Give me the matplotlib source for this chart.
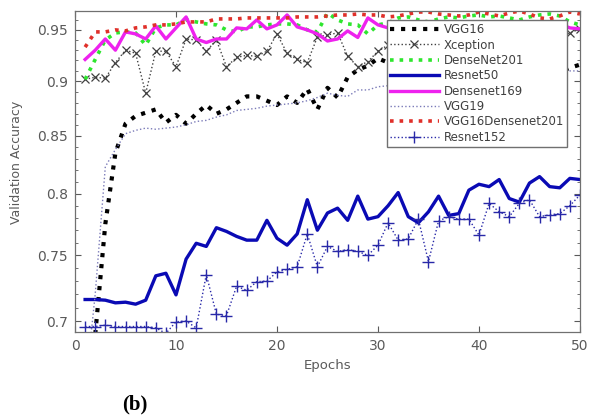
import matplotlib

matplotlib.use("Agg")
import matplotlib.pyplot as plt
import numpy as np
from matplotlib.ticker import NullFormatter

epochs = list(range(1, 51))

vgg16 = [0.660, 0.690, 0.775, 0.835, 0.861, 0.868, 0.871, 0.874, 0.862, 0.869,
         0.861, 0.870, 0.878, 0.870, 0.874, 0.880, 0.886, 0.886, 0.882, 0.878,
         0.886, 0.880, 0.893, 0.874, 0.894, 0.885, 0.904, 0.911, 0.915, 0.922,
         0.918, 0.910, 0.914, 0.920, 0.912, 0.908, 0.915, 0.918, 0.911, 0.909,
         0.916, 0.913, 0.908, 0.912, 0.917, 0.910, 0.914, 0.909, 0.913, 0.916]
xception = [0.902, 0.904, 0.903, 0.918, 0.930, 0.927, 0.889, 0.929, 0.929, 0.914,
            0.941, 0.940, 0.929, 0.940, 0.914, 0.923, 0.925, 0.924, 0.929, 0.946,
            0.927, 0.921, 0.918, 0.943, 0.945, 0.947, 0.924, 0.914, 0.919, 0.929,
            0.935, 0.941, 0.930, 0.938, 0.944, 0.933, 0.940, 0.946, 0.937, 0.942,
            0.948, 0.939, 0.944, 0.950, 0.941, 0.946, 0.949, 0.943, 0.947, 0.951]
densenet201 = [0.902, 0.921, 0.940, 0.947, 0.948, 0.947, 0.935, 0.952, 0.955, 0.955,
               0.960, 0.958, 0.956, 0.955, 0.950, 0.948, 0.953, 0.953, 0.955, 0.956,
               0.956, 0.955, 0.950, 0.948, 0.967, 0.960, 0.956, 0.955, 0.946, 0.955,
               0.957, 0.962, 0.963, 0.960, 0.958, 0.961, 0.963, 0.962, 0.964, 0.965,
               0.963, 0.964, 0.962, 0.960, 0.963, 0.965, 0.966, 0.964, 0.958, 0.955]
resnet50 = [0.716, 0.716, 0.7155, 0.7135, 0.714, 0.7125, 0.7155, 0.734, 0.736, 0.7195,
            0.747, 0.7595, 0.757, 0.772, 0.769, 0.765, 0.762, 0.762, 0.778, 0.7635,
            0.758, 0.767, 0.795, 0.770, 0.784, 0.788, 0.778, 0.798, 0.779, 0.781,
            0.790, 0.801, 0.781, 0.776, 0.785, 0.798, 0.782, 0.7835, 0.803, 0.808,
            0.806, 0.812, 0.796, 0.793, 0.809, 0.8145, 0.806, 0.805, 0.813, 0.812]
densenet169 = [0.921, 0.930, 0.941, 0.930, 0.948, 0.946, 0.941, 0.954, 0.941, 0.952,
               0.963, 0.941, 0.9375, 0.941, 0.941, 0.952, 0.951, 0.960, 0.951, 0.955,
               0.965, 0.953, 0.950, 0.946, 0.939, 0.941, 0.949, 0.9425, 0.962, 0.955,
               0.952, 0.948, 0.955, 0.950, 0.946, 0.953, 0.957, 0.951, 0.947, 0.954,
               0.958, 0.952, 0.949, 0.955, 0.951, 0.947, 0.953, 0.956, 0.952, 0.951]
vgg19 = [0.650, 0.720, 0.823, 0.838, 0.852, 0.855, 0.857, 0.856, 0.857, 0.858,
         0.860, 0.863, 0.864, 0.867, 0.869, 0.873, 0.874, 0.875, 0.877, 0.878,
         0.879, 0.880, 0.882, 0.885, 0.889, 0.887, 0.886, 0.892, 0.892, 0.895,
         0.896, 0.897, 0.898, 0.899, 0.900, 0.900, 0.901, 0.902, 0.903, 0.903,
         0.904, 0.905, 0.905, 0.906, 0.907, 0.907, 0.908, 0.909, 0.910, 0.910]
vgg16_densenet201 = [0.933, 0.948, 0.948, 0.950, 0.949, 0.952, 0.953, 0.955, 0.955, 0.956,
                     0.958, 0.958, 0.958, 0.961, 0.961, 0.961, 0.962, 0.962, 0.962, 0.962,
                     0.962, 0.963, 0.963, 0.963, 0.964, 0.965, 0.965, 0.966, 0.965, 0.965,
                     0.963, 0.964, 0.966, 0.968, 0.968, 0.966, 0.965, 0.964, 0.965, 0.968,
                     0.966, 0.964, 0.967, 0.969, 0.966, 0.962, 0.961, 0.964, 0.968, 0.966]
resnet152 = [0.696, 0.696, 0.697, 0.696, 0.696, 0.696, 0.696, 0.695, 0.691, 0.6995,
             0.700, 0.695, 0.735, 0.705, 0.704, 0.726, 0.723, 0.7295, 0.730, 0.737,
             0.739, 0.741, 0.767, 0.741, 0.757, 0.753, 0.7545, 0.753, 0.750, 0.758,
             0.776, 0.762, 0.763, 0.779, 0.745, 0.7775, 0.781, 0.779, 0.779, 0.766,
             0.792, 0.785, 0.781, 0.792, 0.795, 0.781, 0.7825, 0.7835, 0.790, 0.799]

xticks = [0, 10, 20, 30, 40, 50]
yticks = [0.7, 0.75, 0.8, 0.85, 0.9, 0.95]
ytick_labels = ["0.7", "0.75", "0.8", "0.85", "0.9", "0.95"]

GRAY = "#5a5a5a"


def plot_curves(ax):
    ax.plot(epochs, vgg16, ls=":", lw=3.0, color="black", label="VGG16")
    ax.plot(epochs, xception, ls=":", lw=1.0, color="#404040", marker="x",
            markersize=6, markeredgewidth=0.9, label="Xception")
    ax.plot(epochs, densenet201, ls=":", lw=2.6, color="#2ee62e", label="DenseNet201")
    ax.plot(epochs, resnet50, ls="-", lw=2.4, color="#0a0ab4", label="Resnet50")
    ax.plot(epochs, densenet169, ls="-", lw=2.4, color="#ee22ee", label="Densenet169")
    ax.plot(epochs, vgg19, ls=":", lw=1.0, color="#7a7ab8", label="VGG19")
    ax.plot(epochs, vgg16_densenet201, ls=":", lw=2.6, color="#e0302a",
            label="VGG16Densenet201")
    ax.plot(epochs, resnet152, ls=":", lw=1.0, color="#2828a8", marker="+",
            markersize=8, markeredgewidth=1.0, label="Resnet152")


def style_axes(ax):
    ax.set_xlim(0, 50)
    ax.set_yscale("log")
    ax.set_ylim(0.692, 0.969)
    ax.set_xticks(xticks)
    ax.set_yticks(yticks, labels=ytick_labels)
    ax.set_yticks(np.arange(0.70, 0.97, 0.01), minor=True)
    ax.yaxis.set_minor_formatter(NullFormatter())
    ax.tick_params(which="both", direction="in", top=True, right=True,
                   color=GRAY, labelcolor=GRAY, labelsize=10)
    ax.tick_params(which="major", length=4, pad=5)
    ax.tick_params(which="minor", length=2)
    for spine in ax.spines.values():
        spine.set_color("#707070")
        spine.set_linewidth(0.9)
    ax.set_xlabel("Epochs", fontsize=9.5, color=GRAY)
    ax.set_ylabel("Validation Accuracy", fontsize=9, color=GRAY)
    ax.xaxis.set_label_coords(0.501, -0.084)
    ax.yaxis.set_label_coords(-0.103, 0.53)
    leg = ax.legend(loc="upper right", bbox_to_anchor=(0.975, 0.973),
                    fontsize=8.5, handlelength=4.1, handletextpad=0.4,
                    labelspacing=0.2, borderpad=0.3, borderaxespad=0,
                    fancybox=False, framealpha=1, edgecolor="#707070")
    for text in leg.get_texts():
        text.set_color("#404040")


def main():
    fig = plt.figure(figsize=(5.93, 4.19), dpi=100)
    ax = fig.add_axes([0.1265, 0.2076, 0.8515, 0.7661])
    plot_curves(ax)
    style_axes(ax)
    fig.text(0.228, 0.035, "(b)", family="Liberation Serif", fontweight="bold",
             fontsize=15, ha="center", va="center")
    fig.savefig("out.png", dpi=100)
    plt.close(fig)


if __name__ == "__main__":
    main()
